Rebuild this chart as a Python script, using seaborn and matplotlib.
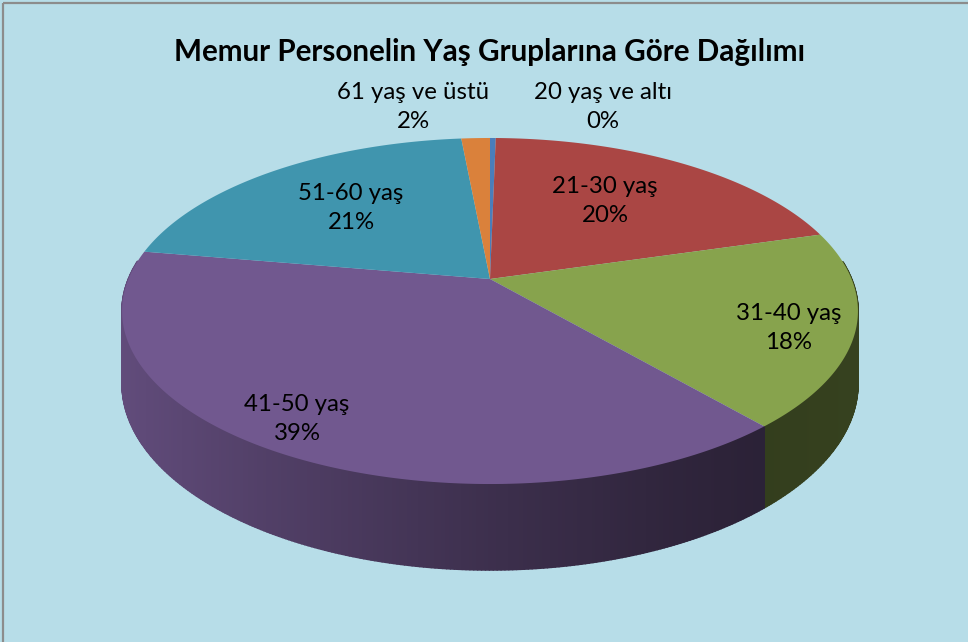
import numpy as np
import matplotlib
matplotlib.use("Agg")
import matplotlib.pyplot as plt
import seaborn as sns
from matplotlib.transforms import Transform
from matplotlib.path import Path
from matplotlib.collections import PolyCollection
from matplotlib.patches import Rectangle

# ---------------- data ----------------
categories = ["20 yaş ve altı", "21-30 yaş", "31-40 yaş", "41-50 yaş", "51-60 yaş", "61 yaş ve üstü"]
shares = [0.3, 20.2, 18.2, 39.0, 20.8, 1.5]
colors = ["#4A7EBB", "#AA4644", "#87A34D", "#71588F", "#4095AE", "#DA813B"]
title = "Memur Personelin Yaş Gruplarına Göre Dağılımı"

# ---------------- layout (pixels) ----------------
W, H = 968, 642
BG = "#B7DDE8"
CX, CY = 490.0, 279.0      # projected pie centre
A, B, K = 167.1, 361.6, 0.185   # perspective parameters
DEPTH = 70.0
label_pos = {
    "20 yaş ve altı": (603, 107),
    "21-30 yaş": (605, 201),
    "31-40 yaş": (789, 328),
    "41-50 yaş": (297, 419),
    "51-60 yaş": (351, 208),
    "61 yaş ve üstü": (413, 107),
}

sns.set_theme(style="white")
plt.rcParams["font.family"] = ["Lato", "DejaVu Sans"]


def project(u, v, z=0.0):
    w = 1.0 + K * v
    return CX + B * u / w, CY + (-A * v + z) / w


class Perspective(Transform):
    input_dims = 2
    output_dims = 2
    is_separable = False
    has_inverse = False

    def transform_non_affine(self, xy):
        xy = np.asarray(xy, dtype=float).reshape(-1, 2)
        X, Y = project(xy[:, 0], xy[:, 1])
        return np.column_stack([X, Y])

    def transform_path_non_affine(self, path):
        verts, codes = [], []
        for seg, code in path.iter_bezier():
            if code == Path.MOVETO:
                pts = np.asarray(seg.control_points).reshape(-1, 2)
                codes += [Path.MOVETO]
            else:
                t = np.linspace(0, 1, 60)[1:]
                pts = seg(t)
                codes += [Path.LINETO] * len(pts)
            verts.append(pts)
        v = np.concatenate(verts)
        return Path(self.transform_non_affine(v), codes)


fig = plt.figure(figsize=(W / 100, H / 100), dpi=100)
fig.patch.set_facecolor(BG)
ax = fig.add_axes([0, 0, 1, 1])
ax.set_facecolor(BG)

wedges, _ = ax.pie(shares, colors=colors, startangle=90, counterclock=False,
                   radius=1.0, wedgeprops=dict(linewidth=0))

persp = Perspective()
for w in wedges:
    w.set_transform(persp + ax.transData)
    w.set_zorder(3)

# side walls with horizontal shading
def shade(xpix):
    s = (xpix - CX) / 368.0
    return np.interp(s, [-1.0, -0.6, 0.0, 0.5, 0.75, 1.0],
                     [0.86, 0.72, 0.54, 0.42, 0.38, 0.40])

polys, fcs = [], []
for w, col in zip(wedges, colors):
    base = np.array(matplotlib.colors.to_rgb(col))
    t = np.radians(np.linspace(w.theta1, w.theta2, max(int(w.theta2 - w.theta1) * 2, 2)))
    for t0, t1 in zip(t[:-1], t[1:]):
        u0, v0, u1, v1 = np.cos(t0), np.sin(t0), np.cos(t1), np.sin(t1)
        if min(v0, v1) > 0.1:
            continue
        x0, y0 = project(u0, v0)
        x1, y1 = project(u1, v1)
        x0b, y0b = project(u0, v0, DEPTH)
        x1b, y1b = project(u1, v1, DEPTH)
        polys.append([(x0, y0), (x1, y1), (x1b, y1b), (x0b, y0b)])
        fcs.append(np.clip(base * shade(0.5 * (x0 + x1)), 0, 1))

pc = PolyCollection(polys, facecolors=fcs, edgecolors=fcs, linewidths=1.2, zorder=2)
ax.add_collection(pc)

# labels
for cat, val in zip(categories, shares):
    x, y = label_pos[cat]
    ax.text(x, y, f"{cat}\n{val:.0f}%", ha="center", va="center",
            fontsize=17.3, linespacing=1.42, color="black", zorder=5)

ax.text(490, 52, title, ha="center", va="center", fontsize=21.3,
        fontweight="bold", color="black", zorder=5)

ax.add_patch(Rectangle((2.5, 2.5), 2000, 2000, fill=False, edgecolor="#8C8C8C",
                       linewidth=1.6, zorder=6))

ax.set_xlim(0, W)
ax.set_ylim(H, 0)
ax.set_aspect("auto")
ax.axis("off")

fig.savefig("out.png", dpi=100, facecolor=BG)
